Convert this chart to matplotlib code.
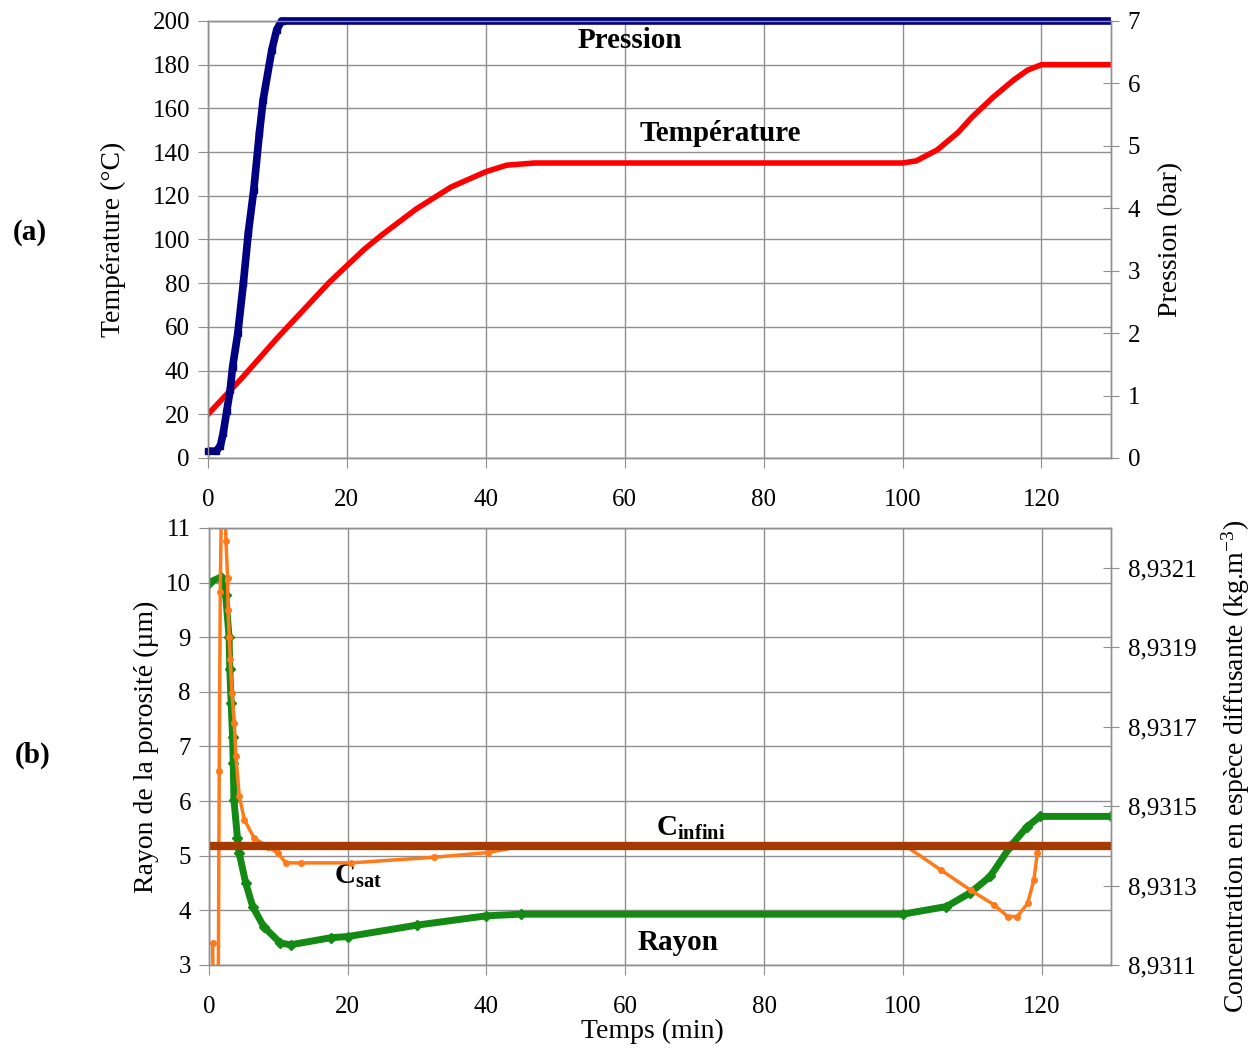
import matplotlib.pyplot as plt
from matplotlib.ticker import FuncFormatter

plt.rcParams['font.family'] = 'Liberation Serif'
plt.rcParams['mathtext.fontset'] = 'custom'
plt.rcParams['mathtext.rm'] = 'Liberation Serif'
plt.rcParams['mathtext.it'] = 'Liberation Serif:italic'
plt.rcParams['mathtext.bf'] = 'Liberation Serif:bold'

#############################
# (a) temperature / pression
t_temp = [0, 5, 10, 15, 17.5, 20, 22.5, 25, 30, 35, 40, 43, 47, 100, 102, 105, 108, 110, 113, 116, 118, 120, 130]
temp = [20, 37, 55, 72, 80.5, 88, 95.5, 102, 114, 124, 131, 134, 135, 135, 136, 141, 149, 156, 165, 173, 177.5, 180, 180]

t_pres = [0, 1.2, 1.8, 2.2, 2.7, 3.2, 3.55, 4.3, 5.1, 5.8, 6.6, 7.4, 7.95, 9.2, 9.9, 10.6, 130]
pres = [0.11, 0.11, 0.2, 0.4, 0.75, 1.09, 1.46, 2.0, 2.8, 3.6, 4.3, 5.2, 5.74, 6.54, 6.86, 7.0, 7.0]

#############################
# (b) rayon / concentrations
t_rayon = [0, 1.7, 2.4, 2.9, 3.0, 3.2, 3.4, 3.5, 3.6, 4.1, 4.35, 5.3, 6.3, 7.9, 10.3, 11.8, 17.6,
           20, 30, 40, 45, 100, 106.3, 109.7, 112.6, 115.5, 117.9, 119.8, 130]
rayon = [10.0, 10.1, 9.78, 9.0, 8.41, 7.8, 7.18, 6.7, 6.02, 5.33, 5.05, 4.5, 4.07, 3.70, 3.4, 3.37, 3.5,
         3.52, 3.73, 3.9, 3.93, 3.93, 4.07, 4.32, 4.62, 5.17, 5.53, 5.72, 5.72]

t_csat = [0.53, 1.15, 1.48, 1.63, 1.95, 2.45, 2.69, 2.75, 2.93, 3.07, 3.31, 3.65, 3.89, 4.37, 5.09, 6.53,
          8.46, 9.9, 11.1, 13.3, 20.5, 32.4, 40.2, 45.4, 100.4, 105.5, 109.8, 113.2, 115.1, 116.5,
          118.0, 118.9, 119.4, 119.7, 130]
csat = [8.931155, 8.930275, 8.931588, 8.932039, 8.932475, 8.932167, 8.932075, 8.931994, 8.931926,
        8.931869, 8.931785, 8.931709, 8.931625, 8.931525, 8.931466, 8.931419, 8.931398, 8.931382,
        8.931357, 8.931357, 8.931357, 8.931371, 8.931383, 8.931400, 8.931400, 8.931339, 8.931288,
        8.931251, 8.931222, 8.931222, 8.931255, 8.931315, 8.931382, 8.931400, 8.931400]

t_cinf = [0, 130]
cinf = [8.93140, 8.93140]

x_ticks = [0, 20, 40, 60, 80, 100, 120]
#############################

grid_col = '#8f8f8f'
fs_tick = 18
fs_lab = 20
fs_txt = 21


def style(ax, right=False):
    for s in ax.spines.values():
        s.set_color(grid_col)
        s.set_linewidth(1)
    if right:
        ax.tick_params(axis='y', direction='inout', length=12, color=grid_col,
                       labelsize=fs_tick, pad=6)
    else:
        ax.tick_params(axis='both', direction='out', length=7, color=grid_col,
                       labelsize=fs_tick, pad=6)
        ax.tick_params(axis='x', pad=15)


fig = plt.figure(figsize=(12.55, 10.49), dpi=100)

# ---------- (a)
axT = fig.add_axes([0.1657, 0.5634, 0.7195, 0.4166])
axP = axT.twinx()
axT.plot(t_temp, temp, color='#ff0000', lw=4)
axP.plot(t_pres, pres, color='#000080', lw=5.5, marker='s', ms=4.5, markevery=slice(0, -1),
         solid_capstyle='butt', clip_on=False)
axT.set_xlim(0, 130)
axT.set_ylim(0, 200)
axP.set_ylim(0, 7)
axT.set_xticks(x_ticks)
axT.set_yticks(range(0, 201, 20))
axP.set_yticks(range(0, 8))
axT.grid(True, color=grid_col, lw=1)
style(axT)
style(axP, right=True)
axT.set_ylabel('Température (°C)', fontsize=fs_lab)
axT.yaxis.set_label_coords(-0.091, 0.5)
axP.set_ylabel('Pression (bar)', fontsize=fs_lab)
axP.yaxis.set_label_coords(1.052, 0.5)
axT.text(60.7, 191, 'Pression', fontsize=fs_txt, fontweight='bold', ha='center', va='center')
axT.text(73.7, 148.5, 'Température', fontsize=fs_txt, fontweight='bold', ha='center', va='center')

# ---------- (b)
axR = fig.add_axes([0.1665, 0.0801, 0.7187, 0.4166])
axC = axR.twinx()
axR.plot(t_rayon, rayon, color='#138a13', lw=5, marker='D', ms=5)
axC.plot(t_csat, csat, color='#ff7a1a', lw=2.5, marker='o', ms=4)
axC.plot(t_cinf, cinf, color='#a33a00', lw=6, solid_capstyle='butt')
axR.set_xlim(0, 130)
axR.set_ylim(3, 11)
axC.set_ylim(8.9311, 8.9311 + 8 * 0.0001375)
axR.set_xticks(x_ticks)
axR.set_yticks(range(3, 12))
axC.set_yticks([8.9311, 8.9313, 8.9315, 8.9317, 8.9319, 8.9321])
axC.yaxis.set_major_formatter(FuncFormatter(lambda v, p: ('%.4f' % v).replace('.', ',')))
axR.grid(True, color=grid_col, lw=1)
style(axR)
style(axC, right=True)
axR.set_ylabel('Rayon de la porosité (µm)', fontsize=fs_lab)
axR.yaxis.set_label_coords(-0.055, 0.5)
axC.set_ylabel(r'Concentration en espèce diffusante (kg.m$^{\mathrm{-3}}$)', fontsize=fs_lab)
axC.yaxis.set_label_coords(1.12, 0.455)
axR.set_xlabel('Temps (min)', fontsize=fs_lab)
axR.xaxis.set_label_coords(0.492, -0.123)
axR.text(69.5, 5.5, r'$\mathbf{C_{infini}}$', fontsize=fs_txt, ha='center', va='center')
axR.text(21.5, 4.62, r'$\mathbf{C_{sat}}$', fontsize=fs_txt, ha='center', va='center')
axR.text(67.6, 3.42, 'Rayon', fontsize=fs_txt, fontweight='bold', ha='center', va='center')

fig.text(0.024, 0.778, '(a)', fontsize=fs_txt, fontweight='bold', ha='center', va='center')
fig.text(0.026, 0.280, '(b)', fontsize=fs_txt, fontweight='bold', ha='center', va='center')

fig.savefig('out.png', dpi=100)
